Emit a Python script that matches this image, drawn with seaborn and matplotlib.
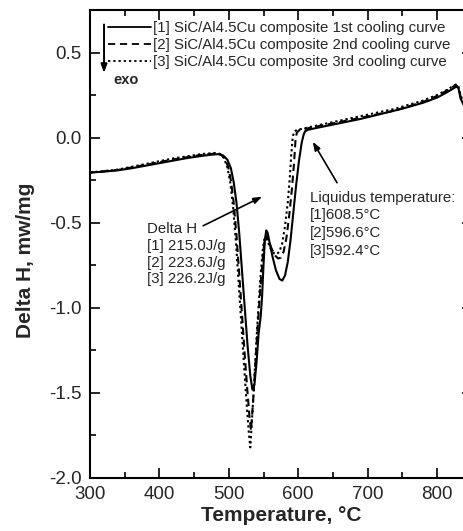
import numpy as np
import pandas as pd
import matplotlib
matplotlib.use("Agg")
import matplotlib.pyplot as plt
from matplotlib.lines import Line2D
from matplotlib.ticker import MultipleLocator, FormatStrFormatter
import seaborn as sns

# DSC cooling curves of the SiC/Al4.5Cu composite (temperature in °C, Delta H in mW/mg)
t1 = [300, 320, 340, 360, 380, 400, 420, 440, 460, 475, 485, 492, 498, 503, 507,
      511, 515, 519, 523, 527, 531, 534, 537, 540, 543, 546, 548, 550, 552, 554,
      556, 559, 563, 568, 573, 577, 581, 585, 589, 593, 597, 601, 605, 608, 610,
      614, 630, 660, 690, 720, 750, 780, 800, 815, 828, 831, 834, 838]
h1 = [-0.205, -0.200, -0.192, -0.180, -0.165, -0.150, -0.135, -0.120, -0.108, -0.100,
      -0.097, -0.105, -0.130, -0.180, -0.260, -0.380, -0.560, -0.780, -1.000, -1.220,
      -1.400, -1.480, -1.450, -1.320, -1.150, -1.050, -0.930, -0.750, -0.600, -0.545,
      -0.560, -0.620, -0.700, -0.780, -0.830, -0.840, -0.810, -0.730, -0.600, -0.440,
      -0.280, -0.140, -0.030, 0.020, 0.038, 0.046, 0.060, 0.085, 0.110, 0.140, 0.170,
      0.205, 0.235, 0.268, 0.300, 0.290, 0.230, 0.195]

t2 = [300, 340, 380, 420, 460, 480, 488, 494, 499, 503, 507, 511, 515, 519, 523,
      527, 530, 532, 535, 538, 541, 544, 547, 550, 552, 554, 557, 561, 566, 571,
      575, 579, 583, 587, 591, 594, 596, 598, 602, 620, 660, 700, 740, 780, 800,
      815, 827, 831, 834, 838]
h2 = [-0.205, -0.190, -0.160, -0.128, -0.102, -0.094, -0.098, -0.120, -0.170, -0.250,
      -0.380, -0.570, -0.800, -1.040, -1.280, -1.500, -1.650, -1.720, -1.550, -1.350,
      -1.150, -0.970, -0.800, -0.660, -0.590, -0.575, -0.600, -0.645, -0.690, -0.710,
      -0.705, -0.670, -0.590, -0.460, -0.300, -0.150, -0.020, 0.030, 0.045, 0.060,
      0.092, 0.125, 0.160, 0.210, 0.245, 0.278, 0.310, 0.295, 0.240, 0.200]

t3 = [300, 340, 380, 420, 460, 480, 487, 493, 498, 502, 506, 510, 514, 518, 522,
      526, 529, 531, 534, 537, 540, 543, 546, 549, 551, 553, 556, 560, 565, 569,
      573, 577, 581, 585, 588, 590, 592, 594, 598, 620, 660, 700, 740, 780, 800,
      815, 827, 831, 834, 838]
h3 = [-0.205, -0.188, -0.155, -0.122, -0.097, -0.090, -0.095, -0.120, -0.175, -0.260,
      -0.400, -0.600, -0.840, -1.090, -1.340, -1.580, -1.740, -1.820, -1.620, -1.400,
      -1.180, -0.980, -0.800, -0.660, -0.600, -0.585, -0.610, -0.650, -0.680, -0.685,
      -0.670, -0.620, -0.520, -0.380, -0.230, -0.100, 0.000, 0.035, 0.045, 0.065,
      0.100, 0.135, 0.170, 0.218, 0.250, 0.282, 0.312, 0.300, 0.250, 0.205]

curve_labels = ["[1] SiC/Al4.5Cu composite 1st cooling curve",
                "[2] SiC/Al4.5Cu composite 2nd cooling curve",
                "[3] SiC/Al4.5Cu composite 3rd cooling curve"]
enthalpy = [215.0, 223.6, 226.2]      # J/g
liquidus = [608.5, 596.6, 592.4]      # °C

df = pd.concat([
    pd.DataFrame({"T": t, "H": h, "curve": lab})
    for t, h, lab in zip([t1, t2, t3], [h1, h2, h3], curve_labels)
], ignore_index=True)

sns.set_style("ticks")
plt.rcParams["font.family"] = ["Liberation Sans", "DejaVu Sans"]
plt.rcParams["axes.unicode_minus"] = False

fig = plt.figure(figsize=(4.63, 5.31), dpi=100)
ax = fig.add_axes([90 / 463, 1 - 478 / 531, 381.7 / 463, 468 / 531])

dash_map = {curve_labels[0]: "", curve_labels[1]: (3.5, 2.2), curve_labels[2]: (1.1, 1.4)}
sns.lineplot(data=df, x="T", y="H", style="curve", dashes=dash_map,
             color="black", linewidth=1.5, estimator=None, sort=False,
             legend=False, ax=ax)

ax.set_xlim(300, 850)
ax.set_ylim(-2.0, 0.75)
ax.xaxis.set_major_locator(MultipleLocator(100))
ax.xaxis.set_minor_locator(MultipleLocator(50))
ax.yaxis.set_major_locator(MultipleLocator(0.5))
ax.yaxis.set_minor_locator(MultipleLocator(0.25))
ax.yaxis.set_major_formatter(FormatStrFormatter("%.1f"))
ax.tick_params(which="both", direction="in", top=True, right=True,
               width=1.2, color="black", labelsize=13.5, pad=6)
ax.tick_params(which="major", length=7)
ax.tick_params(which="minor", length=4.5)
for s in ax.spines.values():
    s.set_linewidth(1.5)
    s.set_color("black")

ax.set_xlabel("Temperature, °C", fontsize=15, fontweight="bold", labelpad=2)
ax.set_ylabel("Delta H, mw/mg", fontsize=15, fontweight="bold", labelpad=4)
ax.yaxis.set_label_coords(-0.145, 0.465)

handles = [Line2D([], [], color="black", lw=1.3, ls="-"),
           Line2D([], [], color="black", lw=1.3, ls=(0, (4, 2.6))),
           Line2D([], [], color="black", lw=1.3, ls=(0, (1.3, 1.6)))]
ax.legend(handles, curve_labels, loc="upper left", bbox_to_anchor=(0.046, 0.977),
          frameon=False, fontsize=10.8, handlelength=2.9, handletextpad=0.1,
          labelspacing=0.2, borderpad=0, borderaxespad=0)

# exothermic direction marker
ax.annotate("", xy=(320.2, 0.38), xytext=(320.2, 0.665),
            arrowprops=dict(arrowstyle="-|>,head_length=0.5,head_width=0.18",
                            color="black", lw=1.4, shrinkA=0, shrinkB=0))
ax.text(333, 0.34, "exo", fontsize=10.5, fontweight="bold", va="center", ha="left")

# enthalpy of solidification
dh_text = "Delta H\n" + "\n".join(f"[{i + 1}] {v:.1f}J/g" for i, v in enumerate(enthalpy))
ax.text(382, -0.685, dh_text, fontsize=10.8, va="center", ha="left", linespacing=1.24)
ax.annotate("", xy=(548, -0.347), xytext=(463, -0.518),
            arrowprops=dict(arrowstyle="-|>,head_length=0.5,head_width=0.18",
                            color="black", lw=1.2, shrinkA=0, shrinkB=0))

# liquidus temperatures
lq_text = "Liquidus temperature:\n" + "\n".join(f"[{i + 1}]{v:.1f}°C" for i, v in enumerate(liquidus))
ax.text(617, -0.509, lq_text, fontsize=10.8, va="center", ha="left", linespacing=1.34)
ax.annotate("", xy=(621, -0.024), xytext=(656, -0.265),
            arrowprops=dict(arrowstyle="-|>,head_length=0.5,head_width=0.18",
                            color="black", lw=1.2, shrinkA=0, shrinkB=0))

fig.savefig("out.png", dpi=100)
